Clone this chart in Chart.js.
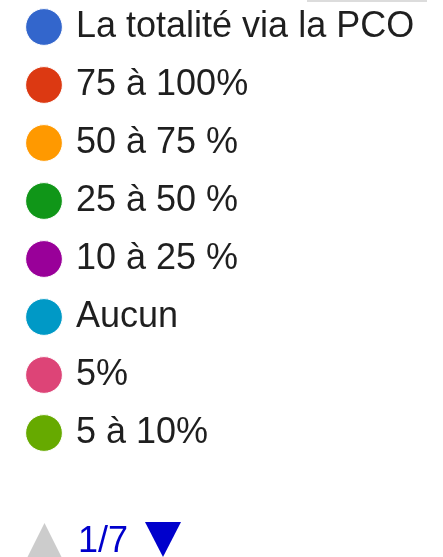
<!DOCTYPE html>
<html>
<head>
<meta charset="utf-8">
<script src="https://cdn.jsdelivr.net/npm/chart.js@4.4.1/dist/chart.umd.min.js"></script>
<style>
  html, body { margin: 0; padding: 0; background: #fff; overflow: hidden; }
  #wrap { position: relative; width: 443px; height: 557px; overflow: hidden; background: #fff; }
  #c { position: absolute; left: 0; top: -13px; }
</style>
</head>
<body>
<div id="wrap"><canvas id="c" width="1200" height="580"></canvas></div>
<script>
// Categories shown on legend page 1 of 7
const categories = [
  "La totalité via la PCO",
  "75 à 100%",
  "50 à 75 %",
  "25 à 50 %",
  "10 à 25 %",
  "Aucun",
  "5%",
  "5 à 10%"
];
// Slice values (the pie itself lies outside the cropped view; estimated)
const values = [34, 18, 12, 10, 8, 7, 5, 6];
const colors = ["#3366cc", "#dc3912", "#ff9900", "#109618", "#990099", "#0099c6", "#dd4477", "#66aa00"];
const pageLabel = "1/7";

const OFF_Y = 13; // canvas is shifted up by this many pixels

const pagerPlugin = {
  id: 'pager',
  afterDraw(chart) {
    const ctx = chart.ctx;
    ctx.save();
    // faint edge at top right
    ctx.fillStyle = '#dcdcdc';
    ctx.fillRect(307, OFF_Y + 0, 120, 2);
    // up arrow (disabled)
    ctx.fillStyle = '#cccccc';
    ctx.beginPath();
    ctx.moveTo(27, OFF_Y + 558);
    ctx.lineTo(44.5, OFF_Y + 523);
    ctx.lineTo(62, OFF_Y + 558);
    ctx.closePath();
    ctx.fill();
    // page text
    ctx.fillStyle = '#0000cc';
    ctx.font = '36px "Liberation Sans", Arial, sans-serif';
    ctx.textBaseline = 'alphabetic';
    ctx.textAlign = 'left';
    ctx.fillText(pageLabel, 78, OFF_Y + 552);
    // down arrow
    ctx.beginPath();
    ctx.moveTo(145, OFF_Y + 522);
    ctx.lineTo(181, OFF_Y + 522);
    ctx.lineTo(163, OFF_Y + 557);
    ctx.closePath();
    ctx.fill();
    ctx.restore();
  }
};

new Chart(document.getElementById('c'), {
  type: 'pie',
  data: {
    labels: categories,
    datasets: [{
      data: values,
      backgroundColor: colors,
      borderColor: '#ffffff',
      borderWidth: 1
    }]
  },
  options: {
    responsive: false,
    animation: false,
    layout: { padding: { left: 8, top: 0, right: 0, bottom: 0 } },
    plugins: {
      tooltip: { enabled: false },
      legend: {
        position: 'left',
        align: 'start',
        labels: {
          usePointStyle: true,
          pointStyle: 'circle',
          boxWidth: 28,
          boxHeight: 26,
          padding: 22,
          color: '#1f1f1f',
          font: { family: '"Liberation Sans", Arial, sans-serif', size: 36 }
        }
      }
    }
  },
  plugins: [pagerPlugin]
});
</script>
</body>
</html>
